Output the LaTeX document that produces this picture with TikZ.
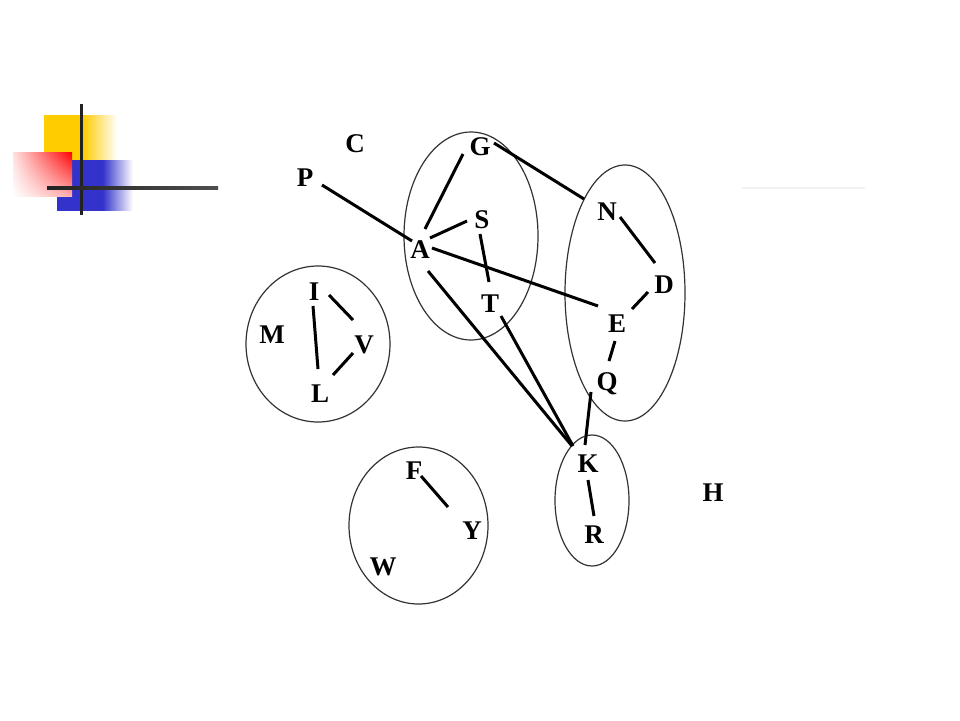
\documentclass[tikz,border=0pt]{standalone}
\usepackage{fontspec}
\setmainfont{Liberation Serif}
\usetikzlibrary{shapes.geometric, shadings}
\definecolor{bargold}{HTML}{FFCC00}
\definecolor{barblue}{HTML}{3333CC}
\definecolor{barline}{HTML}{222222}
\pgfdeclarehorizontalshading{goldfade}{100bp}{color(0bp)=(bargold); color(50bp)=(bargold); color(72bp)=(white); color(100bp)=(white)}
\pgfdeclarehorizontalshading{bluefade}{100bp}{color(0bp)=(barblue); color(55bp)=(barblue); color(75bp)=(white); color(100bp)=(white)}
\tikzset{
  letter/.style={inner sep=0pt, text height=18pt, text depth=0pt, font=\fontsize{27}{27}\selectfont\bfseries},
  blob/.style={ellipse, draw=black!80, line width=1.2pt, inner sep=0pt},
  edge/.style={line width=3pt, black}
}
\begin{document}
\begin{tikzpicture}[x=1pt, y=-1pt]
  \useasboundingbox (0,0) rectangle (960,720);
  \fill [white] (0,0) rectangle (960,720);
  % corner marks
  \shade [shading=goldfade] (44,115) rectangle (122,160);
  \shade [shading=bluefade] (57,160) rectangle (133,210);
  \shade [upper right=red, upper left=red!12, lower right=red!32, lower left=white] (13,152) rectangle (72,196);
  \fill [barline] (79.5,104) rectangle (82.5,215);
  \shade [left color=barline, right color=barline!80] (47,186.5) rectangle (218,189.5);
  \fill [black!5] (742,187) rectangle (865,189);
  % groups
  \node [blob, minimum width=134pt, minimum height=208pt] (blobG) at (471,236) {};
  \node [blob, minimum width=120pt, minimum height=256pt] (blobN) at (625,293) {};
  \node [blob, minimum width=74pt, minimum height=131pt] (blobK) at (592,500.5) {};
  \node [blob, minimum width=144pt, minimum height=156pt] (blobI) at (318,344) {};
  \node [blob, minimum width=139pt, minimum height=157pt] (blobF) at (418.5,525.5) {};
  % letters
  \foreach \n/\x/\y in {C/355/143, P/305/177, G/480/146, S/482/219, A/420/249,
    T/490/303, N/607/211, D/664/284, E/617/323, Q/607/381, K/588/463, R/594/534,
    H/713/492, I/314/291, M/272/334, V/364/344, L/320/393, F/414/470, Y/472/530, W/383/566} {
    \node [letter] (\n) at (\x,\y) {\n};
  }
  % lines
  \draw [edge] ([shift={(17,8)}]P.center) -- ([shift={(-8,-8)}]A.center);
  \draw [edge] ([shift={(5,-20)}]A.center) -- ([shift={(-17,8)}]G.center);
  \draw [edge] ([shift={(10,-11)}]A.center) -- ([shift={(-15,2)}]S.center);
  \draw [edge] ([shift={(-2,15)}]S.center) -- ([shift={(-1,-21)}]T.center);
  \draw [edge] ([shift={(12,-1)}]A.center) -- ([shift={(-19,-17)}]E.center);
  \draw [edge] ([shift={(14,-3)}]G.center) -- ([shift={(-23,-12)}]N.center);
  \draw [edge] ([shift={(13,6)}]N.center) -- ([shift={(-9,-21)}]D.center);
  \draw [edge] ([shift={(-16,8)}]D.center) -- ([shift={(15,-14)}]E.center);
  \draw [edge] ([shift={(-2,18)}]E.center) -- ([shift={(2,-20)}]Q.center);
  \draw [edge] ([shift={(-16,11)}]Q.center) -- ([shift={(-3,-18)}]K.center);
  \draw [edge] ([shift={(8,22)}]A.center) -- ([shift={(-16,-17)}]K.center);
  \draw [edge] ([shift={(11,13)}]T.center) -- ([shift={(-15,-17)}]K.center);
  \draw [edge] ([shift={(0,17)}]K.center) -- ([shift={(0,-18)}]R.center);
  \draw [edge] ([shift={(15,4)}]I.center) -- ([shift={(-11,-24)}]V.center);
  \draw [edge] ([shift={(-1,15)}]I.center) -- ([shift={(-2,-24)}]L.center);
  \draw [edge] ([shift={(13,-18)}]L.center) -- ([shift={(-11,9)}]V.center);
  \draw [edge] ([shift={(7,6)}]F.center) -- ([shift={(-24,-23)}]Y.center);
\end{tikzpicture}
\end{document}
